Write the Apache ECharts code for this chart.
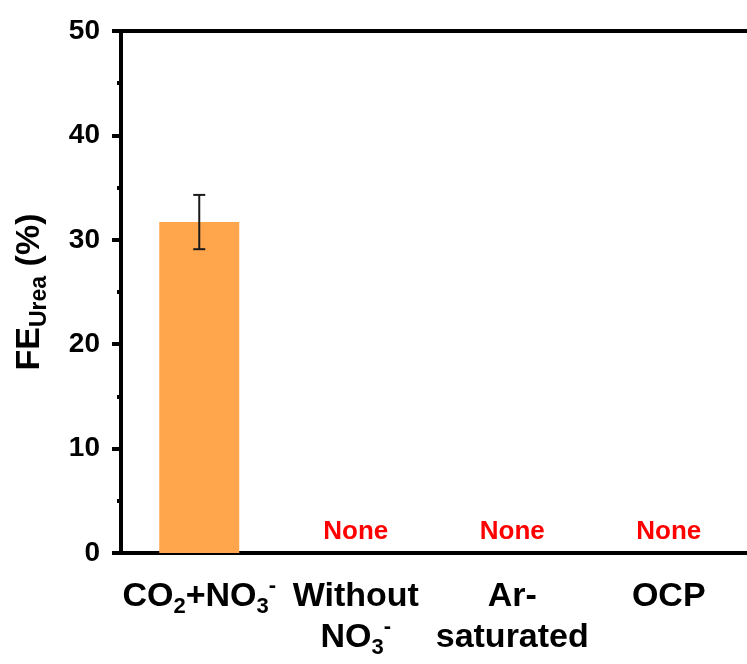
<!DOCTYPE html>
<html>
<head>
<meta charset="utf-8">
<script src="https://cdn.jsdelivr.net/npm/echarts@6/dist/echarts.min.js"></script>
<style>
  html, body { margin: 0; padding: 0; background: #fff; }
  #chart { width: 747px; height: 664px; }
</style>
</head>
<body>
<div id="chart"></div>
<script>
// Conditions tested (₂ ₃ ⁻ are rendered as rich-text sub/superscripts)
const categories = ['CO₂+NO₃⁻', 'Without\nNO₃⁻', 'Ar-\nsaturated', 'OCP'];
// Faradaic efficiency of urea (%)
const feUrea = [31.7, 0, 0, 0];
// Standard deviation
const feError = [2.6, null, null, null];
// Annotation shown where no urea was found
const notes = ['', 'None', 'None', 'None'];
// Y axis range
const yTicks = { min: 0, max: 50, interval: 10 };

const FONT = 'Arial, "Liberation Sans", sans-serif';

function toRich(s) {
  return s
    .replace(/₂/g, '{sub|2}')
    .replace(/₃/g, '{sub|3}')
    .replace(/⁻/g, '{sup|-}')
    .split('\n')
    .map(line => line.replace(/(^|})([^{}]+)(?={|$)/g, (m, p, t) => p + '{n|' + t + '}'))
    .join('\n');
}

const chart = echarts.init(document.getElementById('chart'), null, { renderer: 'canvas' });

const option = {
  animation: false,
  backgroundColor: '#ffffff',
  grid: { left: 121, top: 31, bottom: 111, right: -6, containLabel: false },
  xAxis: [{
    type: 'category',
    data: categories,
    boundaryGap: true,
    axisLine: { lineStyle: { color: '#000', width: 4 } },
    axisTick: { alignWithLabel: true, length: 11, lineStyle: { color: '#000', width: 4 } },
    axisLabel: {
      interval: 0,
      margin: 23,
      color: '#000',
      formatter: v => toRich(v),
      rich: {
        n: { fontFamily: FONT, fontWeight: 'bold', fontSize: 34, lineHeight: 41, color: '#000' },
        sub: { fontFamily: FONT, fontWeight: 'bold', fontSize: 22, lineHeight: 41, padding: [20, 0, 0, 0], color: '#000' },
        sup: { fontFamily: FONT, fontWeight: 'bold', fontSize: 22, lineHeight: 41, padding: [0, 0, 22, 0], color: '#000' }
      }
    },
    splitLine: { show: false }
  }, {
    type: 'category',
    position: 'top',
    data: categories,
    axisLine: { lineStyle: { color: '#000', width: 4 } },
    axisTick: { show: false },
    axisLabel: { show: false }
  }],
  yAxis: {
    type: 'value',
    min: yTicks.min,
    max: yTicks.max,
    interval: yTicks.interval,
    axisLine: { show: true, lineStyle: { color: '#000', width: 4 } },
    axisTick: { show: true, length: 9, lineStyle: { color: '#000', width: 4 } },
    minorTick: { show: true, splitNumber: 2, length: 4, lineStyle: { color: '#000', width: 4 } },
    splitLine: { show: false },
    axisLabel: { margin: 21, color: '#000', fontFamily: FONT, fontWeight: 'bold', fontSize: 28 },
    name: 'FE{sub|Urea} (%)',
    nameLocation: 'middle',
    nameRotate: 90,
    nameGap: 70,
    nameTextStyle: {
      fontFamily: FONT, fontWeight: 'bold', fontSize: 34, color: '#000',
      rich: {
        sub: { fontFamily: FONT, fontWeight: 'bold', fontSize: 23, padding: [20, 0, 0, 0], color: '#000' }
      }
    }
  },
  series: [{
    type: 'bar',
    data: feUrea,
    barWidth: 80,
    itemStyle: { color: '#FFA64D' },
    label: {
      show: true,
      position: 'top',
      distance: 8,
      formatter: p => notes[p.dataIndex],
      color: '#FF0000',
      fontFamily: FONT,
      fontWeight: 'bold',
      fontSize: 26
    }
  }, {
    type: 'custom',
    data: feUrea.map((v, i) => [i, v, feError[i]]).filter(d => d[2] != null),
    z: 5,
    renderItem: function (params, api) {
      const x = api.value(0), y = api.value(1), e = api.value(2);
      const top = api.coord([x, y + e]);
      const bot = api.coord([x, y - e]);
      const half = 6;
      const style = { stroke: '#1a1a1a', lineWidth: 2, fill: null };
      return {
        type: 'group',
        children: [
          { type: 'line', shape: { x1: top[0], y1: top[1], x2: bot[0], y2: bot[1] }, style },
          { type: 'line', shape: { x1: top[0] - half, y1: top[1], x2: top[0] + half, y2: top[1] }, style },
          { type: 'line', shape: { x1: bot[0] - half, y1: bot[1], x2: bot[0] + half, y2: bot[1] }, style }
        ]
      };
    }
  }]
};

chart.setOption(option);
</script>
</body>
</html>
